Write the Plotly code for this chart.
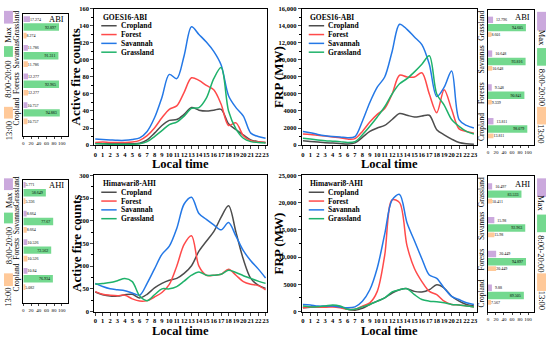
import plotly.graph_objects as go

W, H = 550, 340
def px(x): return x / W
def py(y): return 1 - y / H

SERIF = "Liberation Serif"

hours = list(range(24))
series_names = ["Cropland", "Forest", "Savannah", "Grassland"]
line_colors = ["#4d4d4d", "#ff4a4a", "#2478e6", "#1fb26a"]

# GOES16-ABI active fire counts
abi_cnt_crop = [2, 1.5, 1.5, 1.5, 1.5, 1.5, 2, 6, 14, 23, 29, 30, 36, 44, 41, 40, 41, 42, 25, 18, 12, 6, 4, 3]
abi_cnt_forest = [3, 3.5, 3, 3, 3, 3.5, 5.5, 11, 20, 32, 42, 46, 62, 79, 76, 70, 65, 48, 23, 26, 11, 5, 4, 3]
abi_cnt_sav = [7, 6.5, 6, 5.5, 5.5, 6.5, 8.5, 16, 32, 56, 83, 78, 105, 139, 130, 121, 110, 94, 58, 44, 34, 14, 10, 8]
abi_cnt_grass = [1.5, 1.5, 1, 1, 1, 1, 1.5, 4, 10, 17, 24, 27, 34, 43, 44, 55, 78, 91, 40, 19, 8, 4, 3, 2.5]

# GOES16-ABI FRP (MW)
abi_frp_crop = [500, 420, 350, 280, 230, 180, 120, 250, 900, 1600, 2000, 2300, 3000, 3700, 3500, 3300, 3400, 3500, 1800, 1200, 700, 300, 150, 100]
abi_frp_forest = [1300, 1250, 1150, 1050, 950, 850, 700, 750, 1600, 2700, 3600, 4300, 6000, 8200, 8000, 8000, 8500, 6000, 3800, 6500, 4200, 1900, 1600, 1400]
abi_frp_sav = [1600, 1450, 1250, 1100, 1000, 950, 850, 1000, 2800, 5000, 6800, 8000, 11000, 14200, 13600, 12700, 11800, 9500, 5700, 6800, 8700, 3000, 2300, 2000]
abi_frp_grass = [800, 700, 600, 500, 450, 400, 300, 400, 1200, 2200, 3300, 4500, 6000, 7200, 7800, 8600, 9500, 10500, 6000, 4700, 3000, 2200, 1600, 1300]

# Himawari8-AHI active fire counts
ahi_cnt_crop = [43, 37, 34, 34, 37, 38, 30, 38, 52, 62, 69, 73, 84, 101, 133, 155, 176, 208, 233, 175, 115, 73, 58, 51]
ahi_cnt_forest = [44, 38, 36, 35, 36, 28, 23, 24, 32, 42, 60, 100, 148, 167, 100, 80, 80, 82, 93, 80, 66, 60, 57, 48]
ahi_cnt_sav = [62, 55, 50, 48, 46, 41, 36, 62, 94, 126, 144, 183, 237, 252, 216, 203, 191, 180, 196, 166, 134, 112, 94, 74]
ahi_cnt_grass = [60, 62, 64, 68, 73, 66, 34, 24, 37, 50, 50, 55, 67, 80, 87, 80, 80, 82, 91, 86, 79, 73, 67, 62]

# Himawari8-AHI FRP (MW)
ahi_frp_crop = [700, 800, 850, 850, 1000, 850, 400, 250, 600, 1300, 1900, 2500, 3400, 4000, 4200, 3700, 3600, 4000, 4900, 4300, 2800, 1900, 1300, 1000]
ahi_frp_forest = [700, 850, 800, 800, 850, 700, 400, 400, 1000, 1600, 3700, 10300, 20500, 20000, 12100, 7900, 5500, 3700, 3100, 1900, 1300, 1200, 1000, 850]
ahi_frp_sav = [1300, 1200, 1000, 1000, 1000, 850, 700, 850, 1900, 4000, 8000, 14200, 20500, 21500, 16300, 13000, 9700, 6700, 6100, 4300, 2800, 2200, 1600, 1300]
ahi_frp_grass = [1000, 850, 900, 1000, 1200, 1000, 400, 400, 850, 1300, 1900, 2500, 3600, 4000, 4200, 3100, 2200, 1900, 1800, 1600, 1300, 1200, 1000, 850]

frp_abi_tickvals = [0, 2000, 4000, 6000, 8000, 10000, 12000, 14000, 16000]
frp_abi_ticktext = ["0", "2000", "4000", "6000", "8000", "10,000", "12,000", "14,000", "16,000"]
frp_ahi_tickvals = [0, 5000, 10000, 15000, 20000, 25000]
frp_ahi_ticktext = ["0", "5000", "10,000", "15,000", "20,000", "25,000"]

# Bar panels: percentages (Max, 8:00-20:00, 13:00) per land cover
categories = ["Cropland", "Forests", "Savannas", "Grassland"]
abi_cnt_max = [10.757, 12.277, 11.786, 17.274]
abi_cnt_day = [94.883, 92.965, 91.311, 92.897]
abi_cnt_13 = [10.757, 12.277, 11.786, 8.274]
abi_frp_max = [13.811, 9.548, 10.648, 12.796]
abi_frp_day = [98.079, 90.841, 93.816, 94.605]
abi_frp_13 = [13.811, 9.339, 10.648, 8.601]
ahi_cnt_max = [10.84, 10.526, 8.664, 5.771]
ahi_cnt_day = [76.934, 72.562, 77.67, 58.649]
ahi_cnt_13 = [5.082, 10.526, 8.664, 5.336]
ahi_frp_max = [9.88, 20.449, 15.98, 10.497]
ahi_frp_day = [89.505, 94.897, 92.963, 83.533]
ahi_frp_13 = [7.567, 20.449, 15.98, 10.411]

bar_names = ["Max", "8:00-20:00", "13:00"]
bar_colors = ["#cba9dd", "#74d98f", "#ffc999"]

fig = go.Figure()
layout = {}

line_panels = [
    (1, 94, 268, 5, 144, [abi_cnt_crop, abi_cnt_forest, abi_cnt_sav, abi_cnt_grass], [0, 160], None, None, 20, "Active fire counts", "GOES16-ABI"),
    (2, 303, 479, 5, 144, [abi_frp_crop, abi_frp_forest, abi_frp_sav, abi_frp_grass], [0, 16000], frp_abi_tickvals, frp_abi_ticktext, 2000, "FRP (MW)", "GOES16-ABI"),
    (3, 94, 268, 175, 314, [ahi_cnt_crop, ahi_cnt_forest, ahi_cnt_sav, ahi_cnt_grass], [0, 300], None, None, 50, "Active fire counts", "Himawari8-AHI"),
    (4, 303, 479, 175, 314, [ahi_frp_crop, ahi_frp_forest, ahi_frp_sav, ahi_frp_grass], [0, 25000], frp_ahi_tickvals, frp_ahi_ticktext, 5000, "FRP (MW)", "Himawari8-AHI"),
]

annotations = []
shapes = []
tickfont_b = dict(family=SERIF, size=6.5, color="black", weight="bold")

for (n, x0, x1, y0, y1, series, yr, tv, tt, dt, ytitle, ltitle) in line_panels:
    sfx = "" if n == 1 else str(n)
    for name, col, ys in zip(series_names, line_colors, series):
        fig.add_trace(go.Scatter(x=hours, y=ys, mode="lines", name=name,
                                 line=dict(color=col, width=1.5, shape="spline", smoothing=0.9),
                                 xaxis="x" + sfx, yaxis="y" + sfx, showlegend=False))
    xr = [-0.13, 23.2] if x0 < 200 else [-0.15, 23.35]
    layout["xaxis" + sfx] = dict(domain=[px(x0), px(x1)], anchor="y" + sfx, range=xr,
                                 tickvals=hours, ticks="outside", ticklen=3, tickwidth=1, tickangle=0,
                                 showline=True, linecolor="black", linewidth=1, mirror=True,
                                 showgrid=False, zeroline=False, tickfont=tickfont_b)
    ydict = dict(domain=[py(y1), py(y0)], anchor="x" + sfx, range=yr,
                 ticks="outside", ticklen=3, tickwidth=1,
                 minor=dict(ticks="outside", ticklen=2, dtick=dt / 2, tickcolor="black"),
                 showline=True, linecolor="black", linewidth=1, mirror=True,
                 showgrid=False, zeroline=False, tickfont=tickfont_b)
    if tv is not None:
        ydict.update(tickvals=tv, ticktext=tt)
    else:
        ydict.update(dtick=dt, tick0=0)
    layout["yaxis" + sfx] = ydict
    tx = 76 if x0 < 200 else 280
    annotations.append(dict(text="<b>%s</b>" % ytitle, x=px(tx), y=py((y0 + y1) / 2), xref="paper", yref="paper",
                            showarrow=False, textangle=-90, xanchor="center", yanchor="middle",
                            font=dict(family=SERIF, size=13, color="black")))
    annotations.append(dict(text="<b>Local time</b>", x=px((x0 + x1) / 2), y=py(y1 + 19.5), xref="paper", yref="paper",
                            showarrow=False, xanchor="center", yanchor="middle",
                            font=dict(family=SERIF, size=12.5, color="black")))
    annotations.append(dict(text="<b>%s</b>" % ltitle, x=px(x0 + 6.5), y=py(y0 + 8.3), xref="paper", yref="paper",
                            showarrow=False, xanchor="left", yanchor="middle",
                            font=dict(family=SERIF, size=7.5, color="black")))
    for i, (name, col) in enumerate(zip(series_names, line_colors)):
        yy = y0 + 17.2 + 9 * i
        shapes.append(dict(type="line", xref="paper", yref="paper", x0=px(x0 + 7), x1=px(x0 + 22.5),
                           y0=py(yy), y1=py(yy), line=dict(color=col, width=1.5)))
        annotations.append(dict(text="<b>%s</b>" % name, x=px(x0 + 24.5), y=py(yy), xref="paper", yref="paper",
                                showarrow=False, xanchor="left", yanchor="middle",
                                font=dict(family=SERIF, size=7.5, color="black")))

bar_panels = [
    (5, 22.5, 67, 10, 135, (abi_cnt_max, abi_cnt_day, abi_cnt_13), [-0.82, 3.46], "left", "ABI"),
    (6, 490.5, 537, 6, 144, (abi_frp_max, abi_frp_day, abi_frp_13), [-0.5, 3.5], "right", "ABI"),
    (7, 22.5, 67, 180, 305, (ahi_cnt_max, ahi_cnt_day, ahi_cnt_13), [-0.84, 3.43], "left", "AHI"),
    (8, 490.5, 537, 176, 314, (ahi_frp_max, ahi_frp_day, ahi_frp_13), [-0.5, 3.5], "right", "AHI"),
]
geom = {
    "left": [(0.17, 0.20), (-0.135, 0.26), (-0.40, 0.20)],
    "right": [(0.11, 0.19), (-0.135, 0.22), (-0.30, 0.14)],
}

for (n, x0, x1, y0, y1, vals, yr, side, sensor) in bar_panels:
    sfx = str(n)
    for j in [2, 1, 0]:
        off, wid = geom[side][j]
        v = vals[j]
        fig.add_trace(go.Bar(y=categories, x=v, orientation="h", name=bar_names[j],
                             marker=dict(color=bar_colors[j], line=dict(width=0)),
                             offset=off, width=wid,
                             text=[str(a) for a in v], texttemplate="%{text}",
                             textposition="inside" if j == 1 else "outside",
                             insidetextanchor="end", constraintext="none", textangle=0,
                             textfont=dict(family=SERIF, size=4, color="black"),
                             cliponaxis=False, showlegend=False,
                             xaxis="x" + sfx, yaxis="y" + sfx))
    layout["xaxis" + sfx] = dict(domain=[px(x0), px(x1)], anchor="y" + sfx, range=[0, 115],
                                 tickvals=[0, 20, 40, 60, 80, 100], ticks="outside", ticklen=2, tickangle=0,
                                 showline=True, linecolor="black", linewidth=1, mirror=True,
                                 showgrid=False, zeroline=False,
                                 tickfont=dict(family=SERIF, size=5, color="black"))
    layout["yaxis" + sfx] = dict(domain=[py(y1), py(y0)], anchor="x" + sfx, type="category",
                                 categoryorder="array", categoryarray=categories, range=yr,
                                 tickangle=-90, ticks="", showline=True, linecolor="black",
                                 linewidth=1, mirror=True, showgrid=False, zeroline=False,
                                 tickfont=dict(family=SERIF, size=7.5, color="black"))
    annotations.append(dict(text=sensor, x=px(x1 - 2), y=py(y0 + (5 if side == "left" else 7.5)),
                            xref="paper", yref="paper", showarrow=False, xanchor="right", yanchor="middle",
                            font=dict(family=SERIF, size=8.5, color="black")))

side_legends = [
    (3, 12, [(7, 20), (43, 54), (105, 117)], [31, 77, 129.5], -90),
    (3, 12, [(178, 190), (213, 224), (275, 288)], [200, 247, 299.5], -90),
    (540, 549, [(8, 27), (45, 63), (105, 123)], [34, 85, 132.5], 90),
    (540, 549, [(178, 197), (215, 233), (275, 293)], [203, 255, 302.5], 90),
]
for (lx0, lx1, rects, centers, ang) in side_legends:
    for j in range(3):
        ry0, ry1 = rects[j]
        shapes.append(dict(type="rect", xref="paper", yref="paper", x0=px(lx0), x1=px(lx1),
                           y0=py(ry1), y1=py(ry0), fillcolor=bar_colors[j], line=dict(width=0)))
        annotations.append(dict(text=bar_names[j], x=px((lx0 + lx1) / 2), y=py(centers[j]),
                                xref="paper", yref="paper", showarrow=False, textangle=ang,
                                xanchor="center", yanchor="middle",
                                font=dict(family=SERIF, size=8.5, color="black")))

fig.update_layout(**layout)
fig.update_layout(width=W, height=H, margin=dict(l=0, r=0, t=0, b=0),
                  paper_bgcolor="white", plot_bgcolor="white", barmode="overlay",
                  annotations=annotations, shapes=shapes,
                  font=dict(family=SERIF, color="black"))

fig.write_html("out.html", config={"displayModeBar": False},
               post_script="document.body.style.margin='0';document.body.style.overflow='hidden';")
